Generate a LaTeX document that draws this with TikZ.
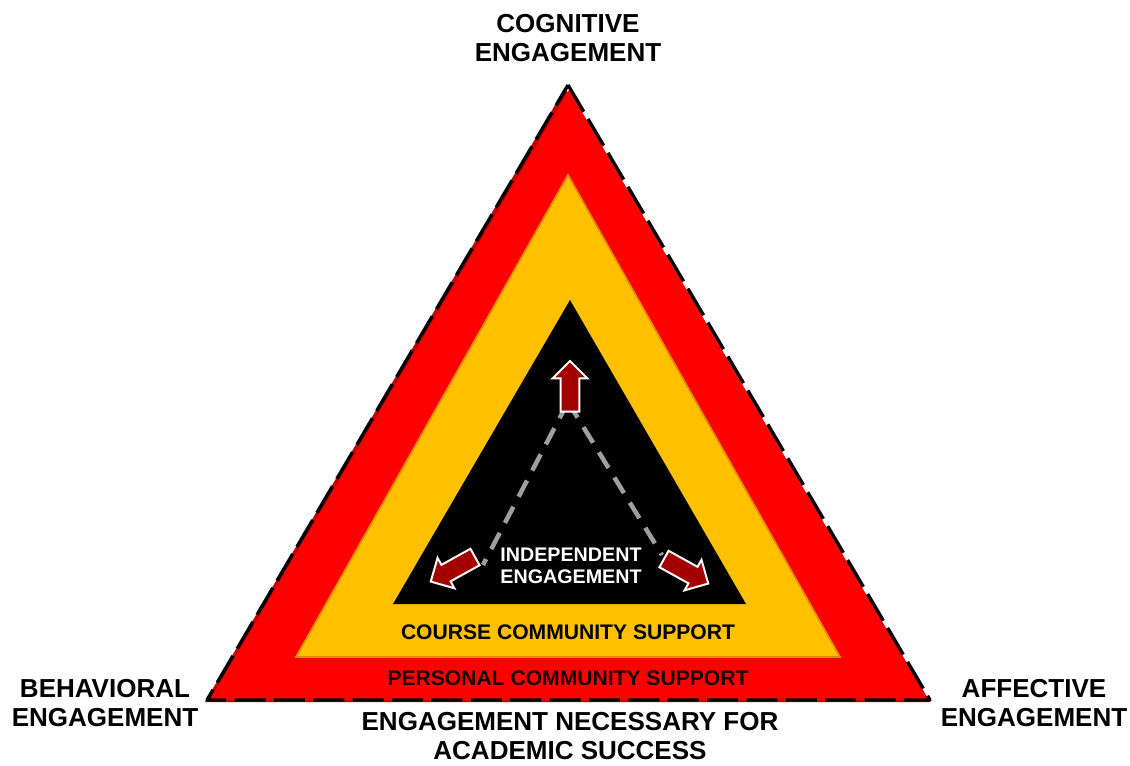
\documentclass[tikz,border=0pt]{standalone}
\usepackage{fontspec}
\setmainfont{Liberation Sans}
\usetikzlibrary{shapes.arrows}

\definecolor{warnred}{HTML}{FF0000}
\definecolor{darkedge}{HTML}{C00000}
\definecolor{amber}{HTML}{FFC000}
\definecolor{amberedge}{HTML}{E38A00}
\definecolor{arrowred}{HTML}{A50000}

\tikzset{
  corner/.style={font=\fontsize{18.5}{21}\selectfont\bfseries, align=center},
  band/.style={font=\fontsize{15}{18}\selectfont\bfseries},
  bigarrow/.style={single arrow, draw=white, line width=1.4pt, fill=arrowred,
    inner sep=6pt, minimum height=36pt, single arrow head extend=5.7pt},
  dashline/.style={gray!75, line width=3.2pt, dash pattern=on 13pt off 8pt}
}

\begin{document}
\begin{tikzpicture}[x=0.025cm,y=-0.025cm]
    \useasboundingbox (0,0) rectangle (1130,766);
    % outer triangle
    \fill[darkedge] (565,88) -- (205,702) -- (930,702) -- cycle;
    \fill[warnred] (569,90) -- (210,700) -- (928,700) -- cycle;
    \draw[line width=2.4pt, dash pattern=on 22pt off 6pt, line join=round] (568,85) -- (930,700) -- (207,700) -- cycle;
    % middle triangle
    \filldraw[fill=amber, draw=amberedge, line width=1.2pt] (568,175) -- (296,657) -- (840,657) -- cycle;
    % inner triangle
    \fill[black] (570,300) -- (393,604) -- (746,604) -- cycle;
    \coordinate (apexIn) at (568,402);
    \coordinate (leftIn) at (483,565);
    \coordinate (rightIn) at (662,555);
    \draw[dashline] (apexIn) -- (leftIn);
    \draw[dashline] (apexIn) -- (rightIn);
    \node[bigarrow, rotate=90] (upArrow) at (570,391) {};
    \node[bigarrow, rotate=209] (leftArrow) at (457,567) {};
    \node[bigarrow, rotate=331] (rightArrow) at (682,569) {};
    % labels
    \node[font=\fontsize{14}{15.8}\selectfont\bfseries, text=white, align=center] (indep) at (571,566) {INDEPENDENT\\ENGAGEMENT};
    \node[band] (course) at (568,632) {COURSE COMMUNITY SUPPORT};
    \node[band, text=black!92!red] (personal) at (568,678) {PERSONAL COMMUNITY SUPPORT};
    \node[corner] (cognitive) at (568,38) {COGNITIVE\\ENGAGEMENT};
    \node[corner] (behavioral) at (105,703) {BEHAVIORAL\\ENGAGEMENT};
    \node[corner] (affective) at (1034,703) {AFFECTIVE\\ENGAGEMENT};
    \node[corner] (success) at (570,736) {ENGAGEMENT NECESSARY FOR\\ACADEMIC SUCCESS};
\end{tikzpicture}
\end{document}
